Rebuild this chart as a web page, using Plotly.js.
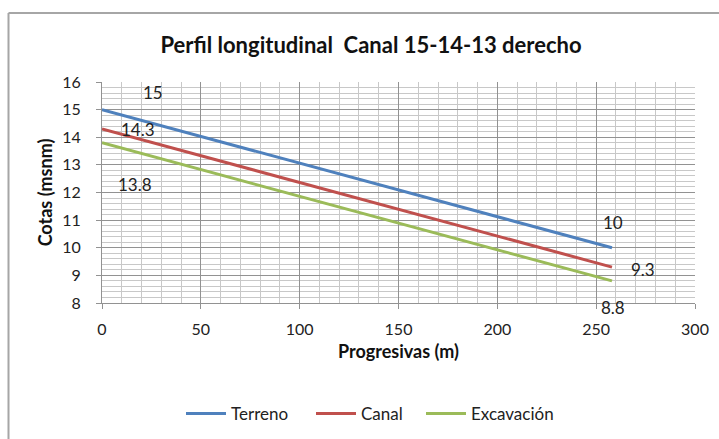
<!DOCTYPE html>
<html>
<head>
<meta charset="utf-8">
<script src="https://cdn.plot.ly/plotly-3.0.1.min.js"></script>
<style>
html,body{margin:0;padding:0;background:#fff;}
#chart{width:719px;height:439px;}
</style>
</head>
<body>
<div id="chart"></div>
<script>
const seriesNames = ["Terreno", "Canal", "Excavación"];
const progresivas = [0, 258];
const terreno = [15, 10];
const canal = [14.3, 9.3];
const excavacion = [13.8, 8.8];
const colors = ["#4F81BD", "#C0504D", "#9BBB59"];
const xTicks = [0, 50, 100, 150, 200, 250, 300];
const yTicks = [8, 9, 10, 11, 12, 13, 14, 15, 16];

const legendIds = ["legend", "legend2", "legend3"];
const seriesValues = [terreno, canal, excavacion];
const traces = seriesValues.map((vals, i) => ({
  x: progresivas, y: vals, name: seriesNames[i], type: 'scatter', mode: 'lines',
  line: {color: colors[i], width: 3}, hoverinfo: 'skip', legend: legendIds[i]
}));

// data labels: [series index, point index, xshift, yshift]
const labelSpots = [[0,0,51,17],[1,0,36,-1],[2,0,33,-42],[0,1,1,25],[1,1,31,-2],[2,1,1,-27]];
const annotations = labelSpots.map(([s,p,dx,dy]) => ({
  x: progresivas[p], y: seriesValues[s][p], text: String(seriesValues[s][p]),
  showarrow: false, xshift: dx, yshift: dy,
  font: {family: 'Lato, "Open Sans", sans-serif', size: 17, color: '#222'}
}));

const PL = 102, PW = 593, PT = 82, PH = 221;
const legendStartPx = [187, 317, 427];
const legendStyle = (px) => ({
  orientation: 'h', x: (px - 6 - PL) / PW, xanchor: 'left', y: (PT + PH - 414) / PH, yanchor: 'middle',
  font: {size: 17, color: '#222'}, itemwidth: 40, bgcolor: 'rgba(0,0,0,0)'
});

const layout = {
  width: 719, height: 439,
  margin: {l: PL, r: 719 - PL - PW, t: PT, b: 439 - PT - PH, autoexpand: false},
  paper_bgcolor: '#fff', plot_bgcolor: '#fff',
  font: {family: 'Lato, "Open Sans", sans-serif', size: 16, color: '#222'},
  title: {text: '<b>Perfil longitudinal  Canal 15-14-13 derecho</b>', x: 0.516, xanchor: 'center', y: 0.897, yanchor: 'middle',
          font: {family: 'Lato, sans-serif', size: 22, color: '#111'}},
  xaxis: {
    range: [0, 300], tickvals: xTicks, ticktext: xTicks.map(String),
    showgrid: true, gridcolor: '#929292', gridwidth: 1,
    minor: {dtick: 10, showgrid: true, gridcolor: '#c8c8c8', gridwidth: 1},
    showline: true, linecolor: '#929292', ticks: 'outside', ticklen: 5, tickcolor: '#929292',
    ticklabelstandoff: 7,
    zeroline: false, fixedrange: true,
    title: {text: '<b>Progresivas (m)</b>', font: {size: 18, color: '#111'}, standoff: 8}
  },
  yaxis: {
    range: [8, 16], tickvals: yTicks, ticktext: yTicks.map(String),
    showgrid: true, gridcolor: '#929292', gridwidth: 1,
    minor: {dtick: 0.2, showgrid: true, gridcolor: '#c8c8c8', gridwidth: 1},
    showline: true, linecolor: '#929292', ticks: 'outside', ticklen: 5, tickcolor: '#929292',
    ticklabelstandoff: 12,
    zeroline: false, fixedrange: true,
    title: {text: '<b>Cotas (msnm)</b>', font: {size: 18, color: '#111'}, standoff: 4}
  },
  showlegend: true,
  legend: legendStyle(legendStartPx[0]),
  legend2: legendStyle(legendStartPx[1]),
  legend3: legendStyle(legendStartPx[2]),
  annotations: annotations,
  shapes: [
    {type: 'line', xref: 'paper', yref: 'paper', x0: (8.5-PL)/PW, x1: (8.5-PL)/PW, y0: 1 + (PT-13)/PH, y1: (PT+PH-445)/PH,
     line: {color: '#a6a6a6', width: 2}},
    {type: 'line', xref: 'paper', yref: 'paper', x0: (8.5-PL)/PW, x1: (725-PL)/PW, y0: 1 + (PT-13)/PH, y1: 1 + (PT-13)/PH,
     line: {color: '#a6a6a6', width: 2}}
  ]
};

Plotly.newPlot('chart', traces, layout, {displayModeBar: false, staticPlot: true});
</script>
</body>
</html>
